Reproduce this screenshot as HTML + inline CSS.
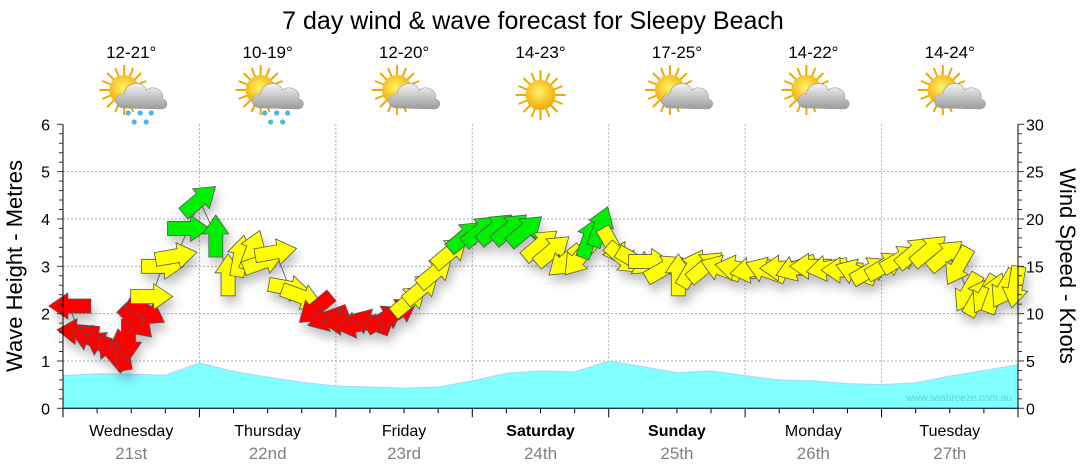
<!DOCTYPE html>
<html><head><meta charset="utf-8"><style>
html,body{margin:0;padding:0;background:#fff;width:1080px;height:475px;overflow:hidden}
svg text{font-family:"Liberation Sans",sans-serif}
</style></head><body>
<svg id="chart" width="1080" height="475" viewBox="0 0 1080 475" xmlns="http://www.w3.org/2000/svg">
<defs>
<filter id="sh" x="-50%" y="-50%" width="200%" height="200%"><feDropShadow dx="3" dy="7" stdDeviation="5" flood-color="#000" flood-opacity="0.25"/></filter>
<radialGradient id="sunG" cx="0.45" cy="0.4" r="0.6"><stop offset="0" stop-color="#fff36a"/><stop offset="1" stop-color="#f2a900"/></radialGradient>
<linearGradient id="cloudG" x1="0" y1="0" x2="0" y2="1"><stop offset="0" stop-color="#f4f4f4"/><stop offset="1" stop-color="#9a9a9a"/></linearGradient>
<g id="sun"><g stroke="#f0a800" stroke-width="2"><line x1="-25" y1="0" x2="25" y2="0"/><line x1="0" y1="-25" x2="0" y2="25"/><line x1="-17" y1="-17" x2="17" y2="17"/><line x1="-17" y1="17" x2="17" y2="-17"/><line x1="-9" y1="-22" x2="9" y2="22"/><line x1="-22" y1="-9" x2="22" y2="9"/><line x1="-22" y1="9" x2="22" y2="-9"/><line x1="-9" y1="22" x2="9" y2="-22"/></g><circle r="15" fill="url(#sunG)"/></g>
<g id="cloud"><path d="M-16,12 C-27,12 -27,-2 -16,-2 C-15,-14 3,-16 6,-6 C14,-12 25,-5 22,3 C29,4 28,13 21,13 Z" fill="url(#cloudG)" stroke="#999" stroke-width="0.6"/></g>
<g id="rain" fill="#4db5e8"><circle cx="-10" cy="18" r="2.6"/><circle cx="2" cy="18" r="2.6"/><circle cx="13" cy="18" r="2.6"/><circle cx="-4" cy="27" r="2.6"/><circle cx="8" cy="27" r="2.6"/></g>
</defs>
<text x="533" y="29" text-anchor="middle" font-size="25">7 day wind &amp; wave forecast for Sleepy Beach</text>
<g id="header"></g>
<g id="grid"></g>
<path id="wave" fill="#80ffff" stroke="#aad4ff" stroke-width="1"/>
<polyline id="windline" fill="none" stroke="#777" stroke-width="1"/>
<g id="arrows" filter="url(#sh)"></g>
<g id="axes"></g>
<text x="1012" y="401" text-anchor="end" font-size="10" fill="#5fd0d8">www.seabreeze.com.au</text>
<text transform="translate(22,266) rotate(-90)" text-anchor="middle" font-size="22">Wave Height - Metres</text>
<text transform="translate(1060,266) rotate(90)" text-anchor="middle" font-size="22">Wind Speed - Knots</text>
</svg>
<script>
const days = ["Wednesday","Thursday","Friday","Saturday","Sunday","Monday","Tuesday"];
const dates = ["21st","22nd","23rd","24th","25th","26th","27th"];
const temps = ["12-21°","10-19°","12-20°","14-23°","17-25°","14-22°","14-24°"];
const icons = ["rain","rain","cloud","sun","cloud","cloud","cloud"];
const boldDays = [false,false,false,true,true,false,false];
const waveTimes = [0,0.25,0.5,0.75,1,1.25,1.5,1.75,2,2.25,2.5,2.75,3,3.25,3.5,3.75,4,4.25,4.5,4.75,5,5.25,5.5,5.75,6,6.25,6.5,6.75,7];
const waveHeights = [0.69,0.73,0.72,0.70,0.96,0.78,0.66,0.55,0.47,0.45,0.43,0.45,0.58,0.74,0.79,0.77,1.0,0.88,0.75,0.79,0.69,0.6,0.58,0.52,0.5,0.54,0.68,0.8,0.92];
const windTimes = [0.05,0.11,0.2,0.29,0.36,0.43,0.48,0.54,0.61,0.65,0.73,0.83,0.92,1.0,1.12,1.21,1.3,1.39,1.47,1.56,1.66,1.75,1.85,1.94,2.05,2.15,2.25,2.36,2.46,2.54,2.63,2.73,2.84,2.95,3.06,3.17,3.28,3.39,3.5,3.59,3.68,3.78,3.86,3.94,4.03,4.11,4.2,4.3,4.41,4.51,4.61,4.71,4.82,4.93,5.04,5.15,5.26,5.37,5.48,5.6,5.71,5.81,5.92,6.03,6.14,6.24,6.35,6.47,6.56,6.63,6.71,6.76,6.83,6.9,6.98];
const windSpeeds = [10.8,8.1,7.4,6.7,5.9,6.2,7.2,9.1,10.2,11.8,15.0,16.1,19.0,22.0,18.2,14.1,16.1,16.7,15.5,16.5,12.7,11.8,10.5,9.5,9.1,8.8,9.1,9.5,10.2,11.4,12.7,14.4,16.5,18.2,18.8,19.0,19.0,18.8,17.3,16.7,15.5,15.8,18.0,19.2,17.1,15.8,15.5,15.5,14.8,14.1,14.8,15.0,14.8,14.8,14.6,14.6,14.8,14.8,15.0,14.8,14.6,14.4,14.6,15.1,15.8,16.5,16.7,16.2,15.0,12.2,11.8,12.0,12.2,12.6,12.8];
const windDirs = [180,185,200,210,230,260,90,45,30,0,0,-10,0,-40,-90,-90,-80,-70,-20,-10,10,20,140,160,180,170,200,-30,-30,-40,-40,-40,-40,-40,-40,-40,-40,-40,-40,-40,140,130,-70,-70,60,40,30,0,-30,-90,-60,-40,200,190,170,200,180,160,180,170,180,200,-30,-30,-30,-40,-40,-40,120,120,-60,120,-70,120,100];
const waveTicks = [0,1,2,3,4,5,6];
const windTicks = [0,5,10,15,20,25,30];

const NS="http://www.w3.org/2000/svg";
const L=63,R=1018,T=124.3,B=408.3;
const xS=d=>L+d*(R-L)/7;
const yM=m=>B-m*(B-T)/6;
const yK=k=>B-k*(B-T)/30;
function el(tag,attrs,parent){const e=document.createElementNS(NS,tag);for(const k in attrs)e.setAttribute(k,attrs[k]);parent.appendChild(e);return e;}
const grid=document.getElementById('grid'),axes=document.getElementById('axes'),hdr=document.getElementById('header'),arrows=document.getElementById('arrows');

days.forEach((d,i)=>{
  const cx=xS(i+0.5);
  const t=el('text',{x:cx,y:58,'text-anchor':'middle','font-size':17},hdr);t.textContent=temps[i];
  
  
  const g=el('g',{transform:`translate(${cx},95)`},hdr);
  
  
  if(icons[i]==='sun'){el('use',{href:'#sun'},g);}
  else{el('use',{href:'#sun',transform:'translate(-7,-5)'},g);el('use',{href:'#cloud',transform:'translate(9,1)'},g);if(icons[i]==='rain')el('use',{href:'#rain',transform:'translate(7,0)'},g);}
  const dn=el('text',{x:cx,y:436,'text-anchor':'middle','font-size':16,'font-weight':boldDays[i]?'bold':'normal'},axes);dn.textContent=d;
  
  
  const dt=el('text',{x:cx,y:459,'text-anchor':'middle','font-size':17,fill:'#808080'},axes);dt.textContent=dates[i];
  
  
});
for(let i=1;i<7;i++){const l=el('line',{x1:xS(i),x2:xS(i),y1:T,y2:B,stroke:'#aaa','stroke-dasharray':'2,2'},grid);
  
  }
waveTicks.forEach(m=>{if(m>0&&m<6){const l=el('line',{x1:L,x2:R,y1:yM(m),y2:yM(m),stroke:'#aaa','stroke-dasharray':'2,2'},grid);
  
  }});
let d=`M${xS(waveTimes[0])},${B}`;waveTimes.forEach((t,i)=>{d+=` L${xS(t)},${yM(waveHeights[i])}`});d+=` L${xS(waveTimes[waveTimes.length-1])},${B} Z`;
document.getElementById('wave').setAttribute('d',d);
document.getElementById('windline').setAttribute('points',windTimes.map((t,i)=>xS(t)+','+yK(windSpeeds[i])).join(' '));
windTimes.forEach((t,i)=>{
  const k=windSpeeds[i];const c=k<11?'#ff0000':(k<18?'#ffff00':'#00ee00');
  const p=el('polygon',{points:'-21,-7 2,-7 2,-13 21,0 2,13 2,7 -21,7',fill:c,stroke:'#555','stroke-width':0.8,transform:`translate(${xS(t)},${yK(k)}) rotate(${windDirs[i]})`},arrows);
  
  
});
el('line',{x1:L,x2:L,y1:T,y2:B,stroke:'#000'},axes);
el('line',{x1:R,x2:R,y1:T,y2:B,stroke:'#000'},axes);
el('line',{x1:L,x2:R,y1:B,y2:B,stroke:'#1a3a5a','stroke-width':1.3},axes);
for(let m=0;m<=30;m++){const y=yM(m/5);const maj=m%5===0;
  el('line',{x1:L-(maj?6:4),x2:L,y1:y,y2:y,stroke:'#333'},axes);
  el('line',{x1:R,x2:R+(maj?6:4),y1:y,y2:y,stroke:'#333'},axes);}
waveTicks.forEach(m=>{const t=el('text',{x:50,y:yM(m)+6,'text-anchor':'end','font-size':16},axes);t.textContent=m;
  
  });
windTicks.forEach(k=>{const t=el('text',{x:1026,y:yK(k)+6,'font-size':16},axes);t.textContent=k;
  
  });
for(let q=0;q<=28;q++){const x=xS(q/4);const maj=q%4===0;el('line',{x1:x,x2:x,y1:B,y2:B+(maj?9:5),stroke:'#000'},axes);}
</script>
</body></html>
